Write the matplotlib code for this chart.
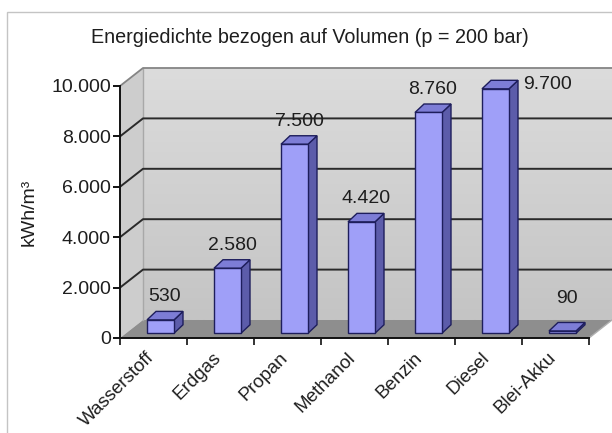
import numpy as np
import matplotlib
matplotlib.use("Agg")
import matplotlib.pyplot as plt
from matplotlib.patches import Polygon, Rectangle

# ---- data ----
categories = ["Wasserstoff", "Erdgas", "Propan", "Methanol", "Benzin", "Diesel", "Blei-Akku"]
values = [530, 2580, 7500, 4420, 8760, 9700, 90]
value_labels = ["530", "2.580", "7.500", "4.420", "8.760", "9.700", "90"]
y_ticks = [0, 2000, 4000, 6000, 8000, 10000]
y_tick_labels = ["0", "2.000", "4.000", "6.000", "8.000", "10.000"]
title = "Energiedichte bezogen auf Volumen (p = 200 bar)"
y_label = "kWh/m³"

# ---- style ----
plt.rcParams['font.family'] = ['Liberation Sans', 'DejaVu Sans']
TXT = '#1e1e1e'
FS = 14
W, H = 612, 433
fig = plt.figure(figsize=(W / 100, H / 100), dpi=100)
fig.patch.set_facecolor('white')

L, B, AW, AH = 120, 95, 469, 252
ax = fig.add_axes([L / W, B / H, AW / W, AH / H])
n = len(categories)
ymax = y_ticks[-1]
px_x = n / AW
px_y = ymax / AH
DX, DY = 23 * px_x, 18 * px_y
BW = 27 * px_x
BDX, BDY = 9 * px_x, 8.5 * px_y

# back wall with gradient
grad = np.linspace(0, 1, 200)[:, None]
top_c = np.array([0xdc, 0xdc, 0xdc]) / 255
bot_c = np.array([0xc4, 0xc4, 0xc4]) / 255
img = top_c[None, None, :] * (1 - grad[..., None]) + bot_c[None, None, :] * grad[..., None]
im = ax.imshow(img, extent=(DX, n + DX, DY, ymax + DY), aspect='auto', zorder=0,
               origin='upper', interpolation='bilinear')
im.set_clip_on(False)

# side wall
side = Polygon([(0, 0), (DX, DY), (DX, ymax + DY), (0, ymax)], closed=True,
               fc='#cdcdcd', ec='none', zorder=0.5, clip_on=False)
ax.add_patch(side)
# floor
floor = Polygon([(0, 0), (n, 0), (n + DX, DY), (DX, DY)], closed=True,
                fc='#8e8e8e', ec='none', zorder=1, clip_on=False)
ax.add_patch(floor)

# wall edges
ax.plot([DX, DX], [DY, ymax + DY], color='#a8a8a8', lw=1, zorder=1.2, clip_on=False)
ax.plot([0, DX, n + DX], [ymax, ymax + DY, ymax + DY], color='#858585', lw=1.3, zorder=1.2, clip_on=False)
ax.plot([n, n + DX], [0, DY], color='#b0b0b0', lw=1, zorder=1.2, clip_on=False)

# gridlines
for v in y_ticks[1:-1]:
    ax.plot([0, DX, n + DX], [v, v + DY, v + DY], color='#2a2a2a', lw=1.4, zorder=1.5, clip_on=False)

# bars
front_c, top_col, side_c, edge_c = '#9f9ff8', '#7d7dd6', '#5c5caa', '#1e1e5c'
bar_tops = []
for i, v in enumerate(values):
    x0 = i + (1 - BW) / 2 + (DX - BDX) / 2
    y0 = (DY - BDY) / 2
    ax.add_patch(Polygon([(x0 + BW, y0), (x0 + BW + BDX, y0 + BDY), (x0 + BW + BDX, y0 + v + BDY),
                          (x0 + BW, y0 + v)], closed=True, fc=side_c, ec=edge_c, lw=1,
                         zorder=3, clip_on=False))
    ax.add_patch(Polygon([(x0, y0 + v), (x0 + BDX, y0 + v + BDY), (x0 + BW + BDX, y0 + v + BDY),
                          (x0 + BW, y0 + v)], closed=True, fc=top_col, ec=edge_c, lw=1,
                         zorder=3, clip_on=False))
    ax.add_patch(Rectangle((x0, y0), BW, v, fc=front_c, ec=edge_c, lw=1, zorder=3.2, clip_on=False))
    bar_tops.append((x0 + BW / 2 + BDX / 2, y0 + v + BDY))

# value labels (pixel nudges where the original moved them)
label_nudge = [(0, 0), (0, 0), (0, 0), (0, 0), (0, 0), (48, -19), (0, 9)]
for (bx, by), lab, (nx, ny) in zip(bar_tops, value_labels, label_nudge):
    ax.annotate(lab, xy=(bx, by), xytext=(nx, 6 + ny), textcoords='offset pixels',
                ha='center', va='bottom', fontsize=FS, color=TXT, annotation_clip=False, zorder=5)

ax.set_xlim(0, n)
ax.set_ylim(0, ymax)

# axes
for s in ['top', 'right']:
    ax.spines[s].set_visible(False)
for s in ['left', 'bottom']:
    ax.spines[s].set_linewidth(1.4)
    ax.spines[s].set_color('#111111')
    ax.spines[s].set_zorder(4)
ax.set_yticks(y_ticks, y_tick_labels)
ax.tick_params(axis='y', direction='out', length=5, width=1.4, pad=1.5, labelsize=FS,
               labelcolor=TXT, color='#111111')
ax.set_xticks(np.arange(n + 1))
ax.set_xticklabels([])
ax.tick_params(axis='x', direction='out', length=5, width=1.2, color='#111111')

for i, c in enumerate(categories):
    ax.annotate(c, xy=(i + 0.5, 0), xytext=(-8, -11), textcoords='offset pixels',
                rotation=45, ha='right', va='top', rotation_mode='anchor',
                fontsize=13.5, color=TXT, annotation_clip=False)

fig.text(310 / W, 1 - 43 / H, title, ha='center', va='baseline', fontsize=14.2, color=TXT)
fig.text(29 / W, 1 - 212 / H, y_label, ha='center', va='center', rotation=90, fontsize=14, color=TXT)

# chart area border
fig.patches.append(Rectangle((7 / W, -0.1), 2, (H - 12) / H + 0.1, transform=fig.transFigure,
                             fill=False, ec='#c4c4c4', lw=1))

fig.savefig('out.png', dpi=100, facecolor='white')
